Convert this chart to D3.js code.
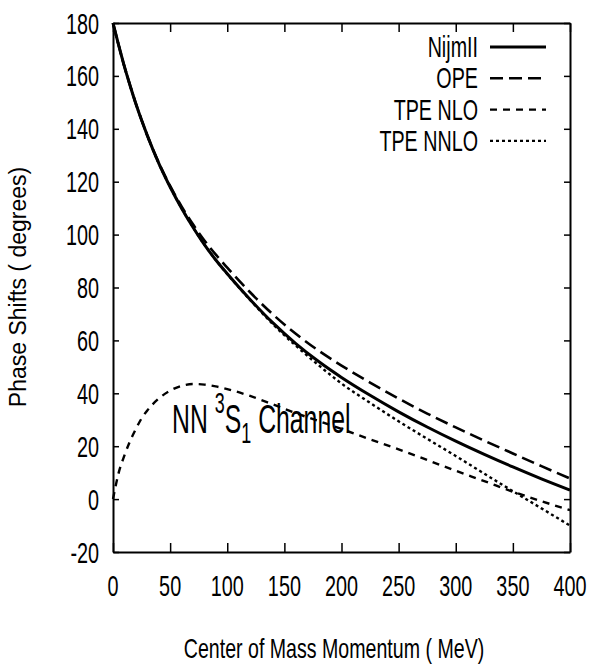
<!DOCTYPE html>
<html>
<head>
<meta charset="utf-8">
<script src="https://cdn.jsdelivr.net/npm/d3@7"></script>
<style>
body { margin: 0; background: #fff; }
text { font-family: "Liberation Sans", Arial, sans-serif; fill: #000; }
</style>
</head>
<body>
<svg id="chart" width="592" height="667"></svg>
<script>
// momentum grid (MeV) shared by all curves
var momentum = [0, 5, 10, 15, 20, 25, 30, 40, 50, 60, 70, 80, 90, 100, 120, 140, 160, 180, 200, 225, 250, 275, 300, 325, 350, 375, 400];

var nijm2 = [180, 171.5, 163.5, 156.3, 149.5, 143.3, 137.5, 127, 118, 110, 102.8, 96.2, 90.4, 85.2, 75.5, 66.6, 58.8, 52.0, 46.0, 39.25, 33.0, 27.25, 21.9, 16.9, 12.15, 7.65, 3.4];
var ope = [180, 171.5, 163.5, 156.3, 149.5, 143.3, 137.5, 127.2, 118.4, 110.7, 103.9, 97.8, 92.4, 87.5, 78.2, 69.8, 62.5, 56.1, 50.5, 44.05, 38.0, 32.35, 27.1, 22.1, 17.25, 12.45, 7.8];
var tpeNlo = [0, 10, 16.5, 22, 26.5, 30.5, 33.5, 38, 41, 42.8, 43.5, 43.3, 42.6, 41.6, 39, 35.8, 32.5, 29.5, 26.5, 22.6, 18.8, 14.8, 10.7, 6.8, 2.8, -0.8, -4.2];
var tpeNnlo = [180, 171.5, 163.5, 156.3, 149.5, 143.3, 137.5, 127, 118, 110, 102.8, 96.2, 90.4, 85.1, 75.3, 66.1, 58.0, 50.6, 43.7, 36.4, 29.4, 22.8, 16.3, 9.6, 3.0, -3.5, -10];

var seriesNames = ['NijmII', 'OPE', 'TPE NLO', 'TPE NNLO'];
var seriesValues = [nijm2, ope, tpeNlo, tpeNnlo];

var xTicks = [0, 50, 100, 150, 200, 250, 300, 350, 400];
var yTicks = [-20, 0, 20, 40, 60, 80, 100, 120, 140, 160, 180];

var dashes = ['none', '13,6', '7,6', '3,3'];
var widths = [3, 2.6, 2.4, 2.4];

var svg = d3.select('#chart');

var plotLeft = 113, plotRight = 570, plotTop = 23, plotBottom = 552;

var x = d3.scaleLinear().domain([0, 400]).range([plotLeft, plotRight]);
var y = d3.scaleLinear().domain([-20, 180]).range([plotBottom, plotTop]);

// narrow (squeezed) text, like the gnuplot output
function narrow(g, px, py, str, size, sx, anchor) {
	return g.append('text')
		.attr('transform', 'translate(' + px + ',' + py + ') scale(' + sx + ',1)')
		.attr('font-size', size)
		.attr('text-anchor', anchor || 'start')
		.text(str);
}

// curves
var line = d3.line()
	.x(function (d) { return x(d[0]); })
	.y(function (d) { return y(d[1]); })
	.curve(d3.curveMonotoneX);

var curves = svg.append('g');
for (var i = 0; i < seriesValues.length; i++) {
	var pts = momentum.map(function (m, j) { return [m, seriesValues[i][j]]; });
	curves.append('path')
		.attr('d', line(pts))
		.attr('fill', 'none')
		.attr('stroke', '#000')
		.attr('stroke-width', widths[i])
		.attr('stroke-dasharray', dashes[i]);
}

// frame with inward ticks on all four sides
var axisG = svg.append('g');
axisG.append('g')
	.attr('transform', 'translate(0,' + plotBottom + ')')
	.call(d3.axisBottom(x).tickValues(xTicks).tickSizeInner(-9).tickSizeOuter(0).tickFormat(''));
axisG.append('g')
	.attr('transform', 'translate(0,' + plotTop + ')')
	.call(d3.axisTop(x).tickValues(xTicks).tickSizeInner(-9).tickSizeOuter(0).tickFormat(''));
axisG.append('g')
	.attr('transform', 'translate(' + plotLeft + ',0)')
	.call(d3.axisLeft(y).tickValues(yTicks).tickSizeInner(-6).tickSizeOuter(0).tickFormat(''));
axisG.append('g')
	.attr('transform', 'translate(' + plotRight + ',0)')
	.call(d3.axisRight(y).tickValues(yTicks).tickSizeInner(-6).tickSizeOuter(0).tickFormat(''));
axisG.selectAll('.domain').attr('stroke', '#000').attr('stroke-width', 2);
axisG.selectAll('.tick line').attr('stroke', '#000').attr('stroke-width', 1.5);

// tick labels
var labels = svg.append('g');
xTicks.forEach(function (t) {
	narrow(labels, x(t), 596, String(t), 30, 0.66, 'middle');
});
yTicks.forEach(function (t) {
	narrow(labels, 99, y(t) + 10.5, String(t), 30, 0.66, 'end');
});

// axis titles
narrow(svg, 334, 658, 'Center of Mass Momentum ( MeV)', 28, 0.70, 'middle');
svg.append('text')
	.attr('transform', 'translate(26,287) rotate(-90)')
	.attr('font-size', 23)
	.attr('text-anchor', 'middle')
	.text('Phase Shifts ( degrees)');

// legend
var legend = svg.append('g');
for (var k = 0; k < seriesNames.length; k++) {
	var ly = 47 + k * 31.3;
	narrow(legend, 478, ly + 10, seriesNames[k], 29, 0.68, 'end');
	legend.append('line')
		.attr('x1', 490).attr('x2', 546)
		.attr('y1', ly).attr('y2', ly)
		.attr('stroke', '#000')
		.attr('stroke-width', widths[k])
		.attr('stroke-dasharray', dashes[k]);
}

// channel annotation
var note = svg.append('text')
	.attr('transform', 'translate(172,433) scale(0.62,1)')
	.attr('font-size', 40);
note.append('tspan').text('NN ');
note.append('tspan').attr('font-size', 29).attr('dy', -20).text('3');
note.append('tspan').attr('dy', 20).text('S');
note.append('tspan').attr('font-size', 29).attr('dy', 10).text('1');
note.append('tspan').attr('dy', -10).text(' Channel');
</script>
</body>
</html>
